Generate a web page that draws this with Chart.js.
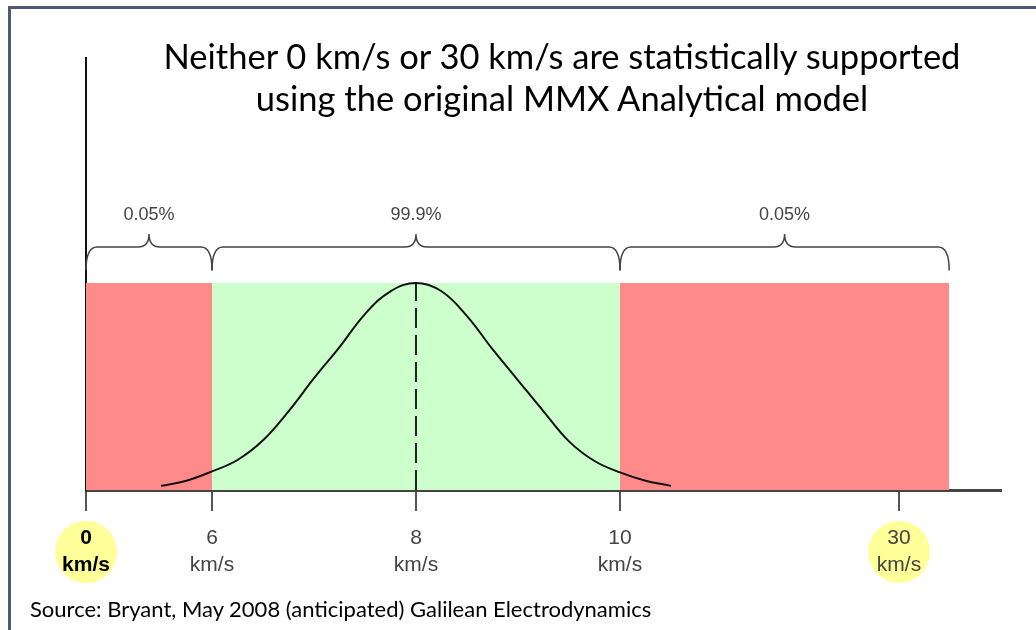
<!DOCTYPE html>
<html>
<head>
<meta charset="utf-8">
<script src="https://cdn.jsdelivr.net/npm/chart.js@4/dist/chart.umd.min.js"></script>
<style>
  body { margin: 0; background: #fff; }
  #slide { position: relative; width: 1036px; height: 630px; overflow: hidden; background: #fff; }
  #frame { position: absolute; left: 8px; top: 6px; right: -10px; bottom: -10px; border-top: 3px solid #4f577a; border-left: 3px solid #4f577a; }
  #title { position: absolute; left: 150px; width: 824px; top: 35px; text-align: center; font-family: Lato, sans-serif; font-size: 34.5px; line-height: 42px; color: #000; }
  #source { position: absolute; left: 30px; top: 596px; font-family: Lato, sans-serif; font-size: 22px; line-height: 26px; color: #000; }
  #wrap { position: absolute; left: 0; top: 0; width: 1036px; height: 630px; }
</style>
</head>
<body>
<div id="slide">
  <div id="wrap"><canvas id="chart"></canvas></div>
  <div id="frame"></div>
  <div id="title">Neither 0 km/s or 30 km/s are statistically supported<br>using the original MMX Analytical model</div>
  <div id="source">Source: Bryant, May 2008 (anticipated) Galilean Electrodynamics</div>
</div>
<script>
// speeds on the axis (km/s)
const tickValues = [0, 6, 8, 10, 30];
const highlighted = [0, 30];

// shaded regions: [from, to] in km/s
const regionRanges = [[0, 6], [6, 10], [10, 33.6]];
const regionColors = ['#ff8a8a', '#ccffcc', '#ff8a8a'];

// braces over the regions
const braceRanges = [[0, 6], [6, 10], [10, 33.6]];
const braceLabels = ['0.05%', '99.9%', '0.05%'];

// bell curve (x in km/s, y relative to peak)
const curveX = [5.5, 5.75, 6.0, 6.25, 6.5, 6.75, 7.0, 7.25, 7.5, 7.75, 8.0,
                8.25, 8.5, 8.75, 9.0, 9.25, 9.5, 9.75, 10.0, 10.25, 10.5];
const curveY = [0.02, 0.045, 0.09, 0.145, 0.24, 0.38, 0.54, 0.69, 0.85, 0.96, 1.0,
                0.96, 0.84, 0.68, 0.53, 0.38, 0.235, 0.14, 0.085, 0.045, 0.02];
const meanSpeed = 8;

// the axis is not to scale: break points and where they sit along it
const breakValues = [0, 6, 10, 30];
const breakFractions = [0, 0.1377, 0.5836, 0.8885];

function pieceFraction(v) {
    let i = 0;
    while (i < breakValues.length - 2 && v > breakValues[i + 1]) i++;
    const v0 = breakValues[i], v1 = breakValues[i + 1];
    const f0 = breakFractions[i], f1 = breakFractions[i + 1];
    return f0 + (v - v0) * (f1 - f0) / (v1 - v0);
}

function pieceValue(f) {
    let i = 0;
    while (i < breakFractions.length - 2 && f > breakFractions[i + 1]) i++;
    const v0 = breakValues[i], v1 = breakValues[i + 1];
    const f0 = breakFractions[i], f1 = breakFractions[i + 1];
    return v0 + (f - f0) * (v1 - v0) / (f1 - f0);
}

class PiecewiseScale extends Chart.LinearScale {
    getPixelForValue(value) {
        if (value === null || value === undefined) return NaN;
        return this.getPixelForDecimal(pieceFraction(value));
    }
    getValueForPixel(pixel) {
        return pieceValue(this.getDecimalForPixel(pixel));
    }
}
PiecewiseScale.id = 'piecewise';
PiecewiseScale.defaults = Chart.LinearScale.defaults;
Chart.register(PiecewiseScale);

const circlePlugin = {
    id: 'circles',
    beforeDraw(chart) {
        const ctx = chart.ctx;
        const x = chart.scales.x;
        ctx.save();
        ctx.fillStyle = '#ffff99';
        highlighted.forEach(v => {
            ctx.beginPath();
            ctx.arc(x.getPixelForValue(v), chart.chartArea.bottom + 62, 31, 0, Math.PI * 2);
            ctx.fill();
        });
        ctx.restore();
    }
};

const bracePlugin = {
    id: 'braces',
    afterDatasetsDraw(chart) {
        const ctx = chart.ctx;
        const x = chart.scales.x, y = chart.scales.y;
        const yEnd = y.getPixelForValue(1.06);
        const yLine = y.getPixelForValue(1.174);
        const yTip = y.getPixelForValue(1.237);
        const yText = y.getPixelForValue(1.33);
        const r = 11;
        ctx.save();
        ctx.strokeStyle = '#444';
        ctx.lineWidth = 1.5;
        ctx.fillStyle = '#444';
        ctx.font = '18px "Liberation Sans", Arial, sans-serif';
        ctx.textAlign = 'center';
        ctx.textBaseline = 'middle';
        braceRanges.forEach((rg, i) => {
            const x0 = x.getPixelForValue(rg[0]);
            const x1 = x.getPixelForValue(rg[1]);
            const mid = (x0 + x1) / 2;
            ctx.beginPath();
            ctx.moveTo(x0, yEnd);
            ctx.quadraticCurveTo(x0, yLine, x0 + r, yLine);
            ctx.lineTo(mid - r, yLine);
            ctx.quadraticCurveTo(mid, yLine, mid, yTip);
            ctx.quadraticCurveTo(mid, yLine, mid + r, yLine);
            ctx.lineTo(x1 - r, yLine);
            ctx.quadraticCurveTo(x1, yLine, x1, yEnd);
            ctx.stroke();
            ctx.fillText(braceLabels[i], mid, yText);
        });
        ctx.restore();
    }
};

const datasets = [];
datasets.push({
    label: 'curve',
    xAxisID: 'xc',
    data: curveX.map((v, i) => ({ x: v, y: curveY[i] })),
    borderColor: '#111',
    borderWidth: 2,
    pointRadius: 0,
    tension: 0.4,
    fill: false,
    order: 1
});
datasets.push({
    label: 'mean',
    xAxisID: 'x',
    data: [{ x: meanSpeed, y: 0 }, { x: meanSpeed, y: 1 }],
    borderColor: '#222',
    borderWidth: 2,
    borderDash: [20, 7],
    pointRadius: 0,
    fill: false,
    order: 2
});
regionRanges.forEach((rg, i) => {
    datasets.push({
        label: 'region' + i,
        xAxisID: 'x',
        data: [{ x: rg[0], y: 1 }, { x: rg[1], y: 1 }],
        backgroundColor: regionColors[i],
        borderWidth: 0,
        pointRadius: 0,
        fill: 'origin',
        order: 3
    });
});

new Chart(document.getElementById('chart'), {
    type: 'line',
    data: { datasets: datasets },
    plugins: [circlePlugin, bracePlugin],
    options: {
        responsive: true,
        maintainAspectRatio: false,
        animation: false,
        devicePixelRatio: 1,
        layout: { padding: { left: 86, right: 35, top: 58, bottom: 0 } },
        plugins: { legend: { display: false }, tooltip: { enabled: false } },
        scales: {
            x: {
                type: 'piecewise',
                position: 'bottom',
                min: 0,
                max: 37.3,
                afterBuildTicks: s => { s.ticks = tickValues.map(v => ({ value: v })); },
                afterFit: s => { s.height = 140; },
                grid: { drawOnChartArea: false, drawTicks: true, tickLength: 21, color: '#555', lineWidth: 2 },
                border: { color: '#444', width: 3 },
                ticks: {
                    autoSkip: false,
                    maxRotation: 0,
                    minRotation: 0,
                    padding: 14,
                    callback: v => [String(v), 'km/s'],
                    color: c => (c.tick && c.tick.value === 0 ? '#000' : '#444'),
                    font: c => ({
                        family: '"Liberation Sans", Arial, sans-serif',
                        size: 21,
                        weight: c.tick && c.tick.value === 0 ? 'bold' : 'normal',
                        lineHeight: 1.27
                    })
                }
            },
            xc: {
                type: 'linear',
                display: false,
                min: 4.7647,
                max: 13.735
            },
            y: {
                type: 'linear',
                position: 'left',
                min: 0,
                max: 2.087,
                afterFit: s => { s.width = 0; },
                ticks: { display: false },
                grid: { display: false, drawTicks: false },
                border: { color: '#111', width: 2 }
            }
        }
    }
});
</script>
</body>
</html>
